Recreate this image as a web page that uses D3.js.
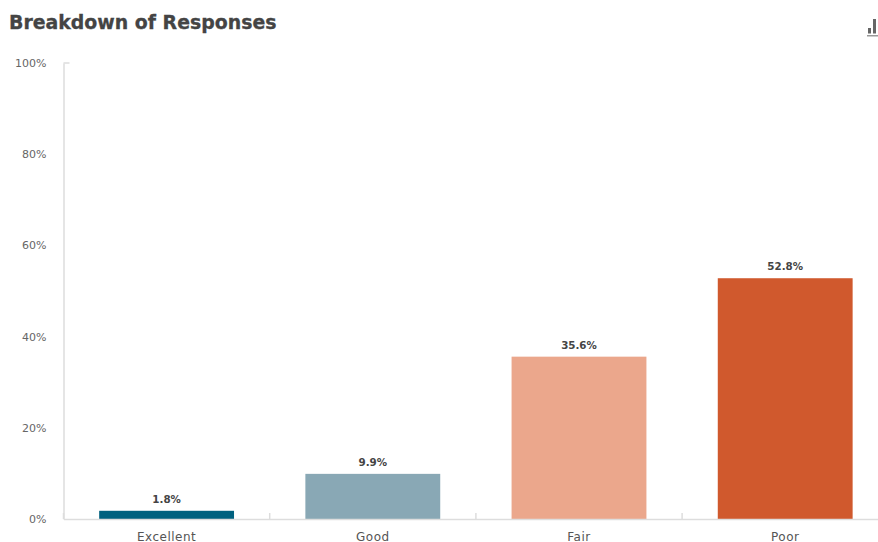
<!DOCTYPE html>
<html>
<head>
<meta charset="utf-8">
<title>Breakdown of Responses</title>
<script src="https://d3js.org/d3.v7.min.js"></script>
<style>
  body { margin: 0; background: #fff; }
  text { font-family: "DejaVu Sans", sans-serif; }
</style>
</head>
<body>
<div id="chart"></div>
<script>
// data
var categories = ["Excellent", "Good", "Fair", "Poor"]
var values = [1.8, 9.9, 35.6, 52.8]
var colors = ["#00617f", "#89a8b5", "#eba78c", "#d0592d"]
var yTicks = [0, 20, 40, 60, 80, 100]

var width = 878, height = 542
var margin = { top: 63, right: -10.3, bottom: 23, left: 63.5 }

var svg = d3.select("#chart").append("svg")
  .attr("width", width)
  .attr("height", height)
  .style("display", "block")

// title
svg.append("text")
  .attr("x", 9)
  .attr("y", 29)
  .attr("font-size", 18.9)
  .attr("font-weight", 700)
  .attr("fill", "#444")
  .attr("stroke", "#444")
  .attr("stroke-width", 0.3)
  .text("Breakdown of Responses")

var x = d3.scaleBand()
  .domain(categories)
  .range([margin.left, width - margin.right])
  .paddingInner(0.346)
  .paddingOuter(0.173)

var y = d3.scaleLinear()
  .domain([0, 100])
  .range([height - margin.bottom, margin.top])

// bars
svg.selectAll("rect.bar")
  .data(values)
  .enter()
  .append("rect")
  .attr("class", "bar")
  .attr("x", function(d, i) { return x(categories[i]) })
  .attr("y", function(d) { return y(d) })
  .attr("width", x.bandwidth())
  .attr("height", function(d) { return y(0) - y(d) })
  .attr("fill", function(d, i) { return colors[i] })

// value labels
svg.selectAll("text.value")
  .data(values)
  .enter()
  .append("text")
  .attr("class", "value")
  .attr("x", function(d, i) { return x(categories[i]) + x.bandwidth() / 2 })
  .attr("y", function(d) { return y(d) - 8 })
  .attr("text-anchor", "middle")
  .attr("font-size", 10.3)
  .attr("font-weight", 700)
  .attr("fill", "#444")
  .text(function(d) { return d.toFixed(1) + "%" })

// y axis, only the end ticks are visible
var yAxis = svg.append("g")
  .attr("transform", "translate(" + margin.left + ",0)")
  .call(d3.axisLeft(y).tickValues(yTicks).tickSize(0).tickPadding(17).tickFormat(function(d) { return d + "%" }))
yAxis.select(".domain").attr("stroke", "#dddddd").attr("stroke-width", 1.5)
yAxis.selectAll("text").attr("font-size", 11).attr("fill", "#666").style("font-family", '"DejaVu Sans", sans-serif')

svg.append("line")
  .attr("x1", margin.left).attr("x2", margin.left + 6)
  .attr("y1", y(100)).attr("y2", y(100))
  .attr("stroke", "#dddddd").attr("stroke-width", 1.5)

// x axis with ticks between the bands
var xAxis = svg.append("g")
  .attr("transform", "translate(0," + y(0) + ")")
  .call(d3.axisBottom(x).tickSize(0).tickPadding(13))
xAxis.select(".domain").attr("stroke", "#dddddd").attr("stroke-width", 1.5)
xAxis.selectAll("text")
  .attr("font-size", 12)
  .attr("letter-spacing", 0.5)
  .attr("fill", "#555")
  .style("font-family", '"DejaVu Sans", sans-serif')

svg.selectAll("line.sep")
  .data(categories)
  .enter()
  .append("line")
  .attr("class", "sep")
  .attr("x1", function(d) { return x(d) - x.step() * 0.173 })
  .attr("x2", function(d) { return x(d) - x.step() * 0.173 })
  .attr("y1", y(0) - 6)
  .attr("y2", y(0))
  .attr("stroke", "#dddddd")
  .attr("stroke-width", 1.5)

// small chart type icon, top right
var icon = svg.append("g").attr("transform", "translate(867,35)")
icon.append("rect").attr("x", 0).attr("y", 0).attr("width", 11).attr("height", 1.5).attr("fill", "#999")
icon.append("rect").attr("x", 1).attr("y", -7).attr("width", 3).attr("height", 5.5).attr("fill", "#666")
icon.append("rect").attr("x", 6).attr("y", -16).attr("width", 3).attr("height", 14.5).attr("fill", "#666")
</script>
</body>
</html>
